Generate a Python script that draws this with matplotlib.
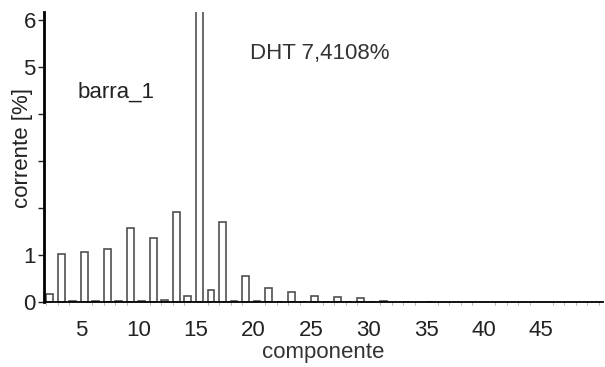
import matplotlib.pyplot as plt
import numpy as np

plt.rcParams['font.family'] = ['Liberation Sans', 'DejaVu Sans']

# harmonic order and current (% of fundamental)
ordens = [2, 3, 4, 5, 6, 7, 8, 9, 10, 11, 12, 13, 14, 15, 16, 17, 18, 19,
          20, 21, 22, 23, 24, 25, 26, 27, 28, 29, 30, 31, 33, 35]
corrente = [0.17, 1.03, 0.02, 1.07, 0.02, 1.12, 0.02, 1.58, 0.02, 1.37, 0.04,
            1.92, 0.13, 6.6, 0.25, 1.71, 0.02, 0.55, 0.02, 0.30, 0.01, 0.21,
            0.01, 0.13, 0.01, 0.10, 0.01, 0.08, 0.01, 0.02, 0.01, 0.01]

yticks = [0, 1, 2, 3, 4, 5, 6]
ytick_labels = ['0', '1', '', '', '', '5', '6']
xticks = [5, 10, 15, 20, 25, 30, 35, 40, 45]

fig = plt.figure(figsize=(6.05, 3.67), dpi=100)
ax = fig.add_axes([0.073, 0.177, 0.924, 0.79])

ax.bar(ordens, corrente, width=0.6, align='edge', color='white',
       edgecolor='#505050', linewidth=1.2)

ax.set_xlim(1.8, 50.4)
ax.set_ylim(0, 6.17)
ax.set_xticks(xticks)
ax.set_xticks(np.arange(2, 51), minor=True)
ax.set_yticks(yticks)
ax.set_yticklabels(ytick_labels)

for s in ['top', 'right']:
    ax.spines[s].set_visible(False)
ax.spines['left'].set_linewidth(2)
ax.spines['bottom'].set_linewidth(1.3)

ax.tick_params(axis='both', labelsize=16, colors='#222222', width=1)
ax.tick_params(axis='x', which='major', length=0, pad=13)
ax.tick_params(axis='x', which='minor', length=2, color='#aaaaaa')
ax.tick_params(axis='y', length=4, pad=2)

ax.set_xlabel('componente', fontsize=16, color='#333333', labelpad=1)
ax.set_ylabel('corrente [%]', fontsize=16, color='#222222')
ax.yaxis.set_label_coords(-0.02, 0.53)

ax.text(0.059, 0.76, 'barra_1', transform=ax.transAxes, fontsize=16,
        color='#222222', va='top')
ax.text(0.368, 0.895, 'DHT 7,4108%', transform=ax.transAxes, fontsize=16,
        color='#333333', va='top')

fig.savefig('out.png', dpi=100)
